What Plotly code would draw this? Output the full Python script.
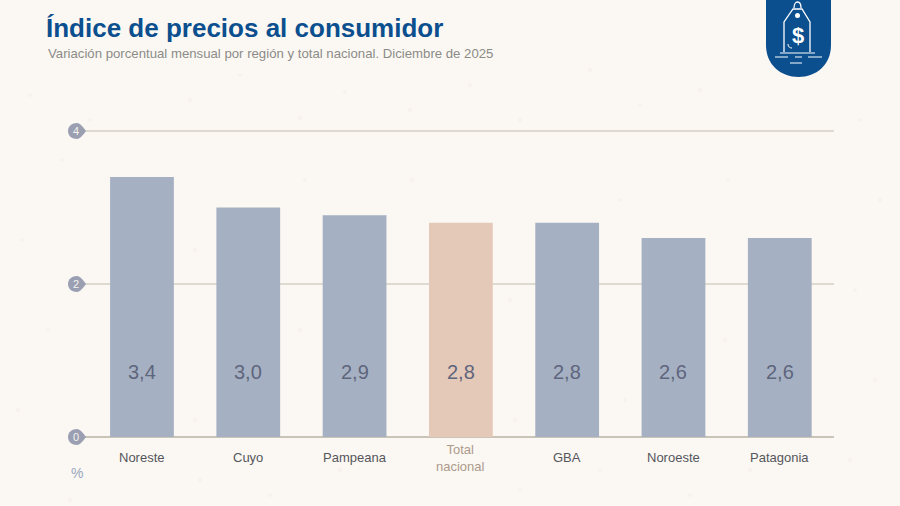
import plotly.graph_objects as go

categories = ['Noreste', 'Cuyo', 'Pampeana', 'Total<br>nacional', 'GBA', 'Noroeste', 'Patagonia']
values = [3.4, 3.0, 2.9, 2.8, 2.8, 2.6, 2.6]
y_ticks = [0, 2, 4]

BG = '#fbf8f3'
BLUE = '#0b4f8f'
BAR = '#a5b1c2'
BAR_TOTAL = '#e5c9b8'
FONT = 'Liberation Sans'
W, H = 900, 506
GRID_START = -0.611  # left end of the grid lines, in category units

# faint specks of the paper texture (page pixels)
SPECKS = [(30, 95), (62, 160), (22, 240), (48, 330), (18, 410), (70, 500), (190, 100), (240, 75), (300, 118),
          (345, 92), (410, 110), (470, 85), (520, 120), (590, 70), (640, 105), (700, 90), (860, 120), (880, 200),
          (855, 290), (875, 380), (850, 460), (200, 480), (270, 495), (340, 470), (520, 490), (600, 470),
          (690, 495), (750, 470), (195, 250), (300, 330), (412, 180), (510, 300), (620, 200), (725, 340),
          (195, 420), (305, 180), (515, 420), (625, 400), (728, 180), (90, 120)]


def px(x):
    return x / W


def py(y):
    return 1 - y / H


def path(points):
    # pixel coordinates of the page -> svg path in paper units
    out = []
    for cmd, *coords in points:
        pairs = [f'{px(coords[i])},{py(coords[i + 1])}' for i in range(0, len(coords), 2)]
        out.append(cmd + ' ' + ' '.join(pairs))
    return ' '.join(out)


fig = go.Figure()
colors = [BAR_TOTAL if 'Total' in c else BAR for c in categories]
fig.add_trace(go.Bar(x=list(range(len(categories))), y=values, width=0.6,
                     marker=dict(color=colors, line_width=0), hoverinfo='skip'))

shapes = []
annotations = []

for sx, sy in SPECKS:
    shapes.append(dict(type='circle', xref='paper', yref='paper', layer='below', line_width=0,
                       fillcolor='#f7f3eb', x0=px(sx - 2), x1=px(sx + 2), y0=py(sy + 2), y1=py(sy - 2)))

# grid lines
for t in y_ticks:
    shapes.append(dict(type='line', xref='x', yref='y', x0=GRID_START, x1=6.51, y0=t, y1=t, layer='below',
                       line=dict(color='#c9c3b8' if t == 0 else '#dedad1', width=2)))
    # badge with the little point on the right
    shapes.append(dict(type='path', xref='x', yref='y', xsizemode='pixel', ysizemode='pixel',
                       xanchor=GRID_START, yanchor=t,
                       path='M -9 0 C -9 -5 -5 -8 0 -8 C 3 -8 6 -4 9 0 C 6 4 3 8 0 8 C -5 8 -9 5 -9 0 Z',
                       fillcolor='#9a9fb2', line_width=0, layer='above'))
    annotations.append(dict(xref='x', yref='y', x=GRID_START, y=t, xshift=-1, text=str(t), showarrow=False,
                            font=dict(family=FONT, size=11, color='#f4f2ee')))

for i, (c, v) in enumerate(zip(categories, values)):
    is_total = 'Total' in c
    annotations.append(dict(xref='x', yref='y', x=i, y=0, yshift=-21, text=c, showarrow=False,
                            font=dict(family=FONT, size=13, color='#ad9a8c' if is_total else '#55565c')))
    annotations.append(dict(xref='x', yref='y', x=i, y=0, yshift=65, text=f'{v:.1f}'.replace('.', ','),
                            showarrow=False, font=dict(family=FONT, size=20, color='#5f657d')))

annotations += [
    dict(xref='paper', yref='paper', x=px(44), y=py(28), xanchor='left', yanchor='middle', showarrow=False,
         text='<b>Índice de precios al consumidor</b>', font=dict(family=FONT, size=26, color=BLUE)),
    dict(xref='paper', yref='paper', x=px(46), y=py(53), xanchor='left', yanchor='middle', showarrow=False,
         text='Variación porcentual mensual por región y total nacional. Diciembre de 2025',
         font=dict(family=FONT, size=13.2, color='#8b8b88')),
    dict(xref='paper', yref='paper', x=px(77), y=py(473), xanchor='center', yanchor='middle', showarrow=False,
         text='%', font=dict(family=FONT, size=14, color='#9aa7be')),
    dict(xref='paper', yref='paper', x=px(797.5), y=py(35), xanchor='center', yanchor='middle', showarrow=False,
         text='<b>$</b>', font=dict(family=FONT, size=22, color='white')),
]

# logo
shapes.append(dict(type='path', xref='paper', yref='paper', fillcolor=BLUE, line_width=0,
                   path=path([('M', 766, 0), ('L', 831, 0), ('L', 831, 45),
                              ('C', 831, 65, 816, 77, 798.5, 77), ('C', 781, 77, 766, 65, 766, 45), ('Z',)])))
shapes.append(dict(type='path', xref='paper', yref='paper', fillcolor='rgba(0,0,0,0)',
                   line=dict(color='white', width=1.3),
                   path=path([('M', 784, 52), ('L', 784, 22), ('L', 793, 9), ('L', 802, 9), ('L', 810, 22),
                              ('L', 810, 52)])))
shapes.append(dict(type='path', xref='paper', yref='paper', fillcolor='rgba(0,0,0,0)',
                   line=dict(color='white', width=1.3),
                   path=path([('M', 794, 8), ('C', 794, 0, 801, 0, 801, 8)])))
shapes.append(dict(type='path', xref='paper', yref='paper', fillcolor='rgba(0,0,0,0)',
                   line=dict(color='white', width=1),
                   path=path([('M', 788, 44), ('C', 788, 47, 790, 48, 792, 48)])))
shapes.append(dict(type='circle', xref='paper', yref='paper', fillcolor='white', line_width=0,
                   x0=px(795), x1=px(800), y0=py(18), y1=py(13)))
for x0, x1, y in [(780, 815, 53), (775, 788, 57), (795, 802, 57), (808, 822, 57), (790, 802, 63)]:
    shapes.append(dict(type='line', xref='paper', yref='paper', x0=px(x0), x1=px(x1), y0=py(y), y1=py(y),
                       line=dict(color='white', width=1)))

# the axes reach a bit past the grid so the badges are not clipped
fig.update_layout(
    width=W, height=H, autosize=False, showlegend=False,
    paper_bgcolor=BG, plot_bgcolor='rgba(0,0,0,0)',
    margin=dict(l=0, r=0, t=0, b=0),
    xaxis=dict(domain=[px(60), px(834)], range=[-0.771, 6.51], visible=False, fixedrange=True),
    yaxis=dict(domain=[py(449), py(119)], range=[-0.157, 4.157], visible=False, fixedrange=True),
    shapes=shapes, annotations=annotations,
)

fig.write_html('out.html', config={'displayModeBar': False},
               post_script="document.body.style.margin='0';document.body.style.overflow='hidden';")
